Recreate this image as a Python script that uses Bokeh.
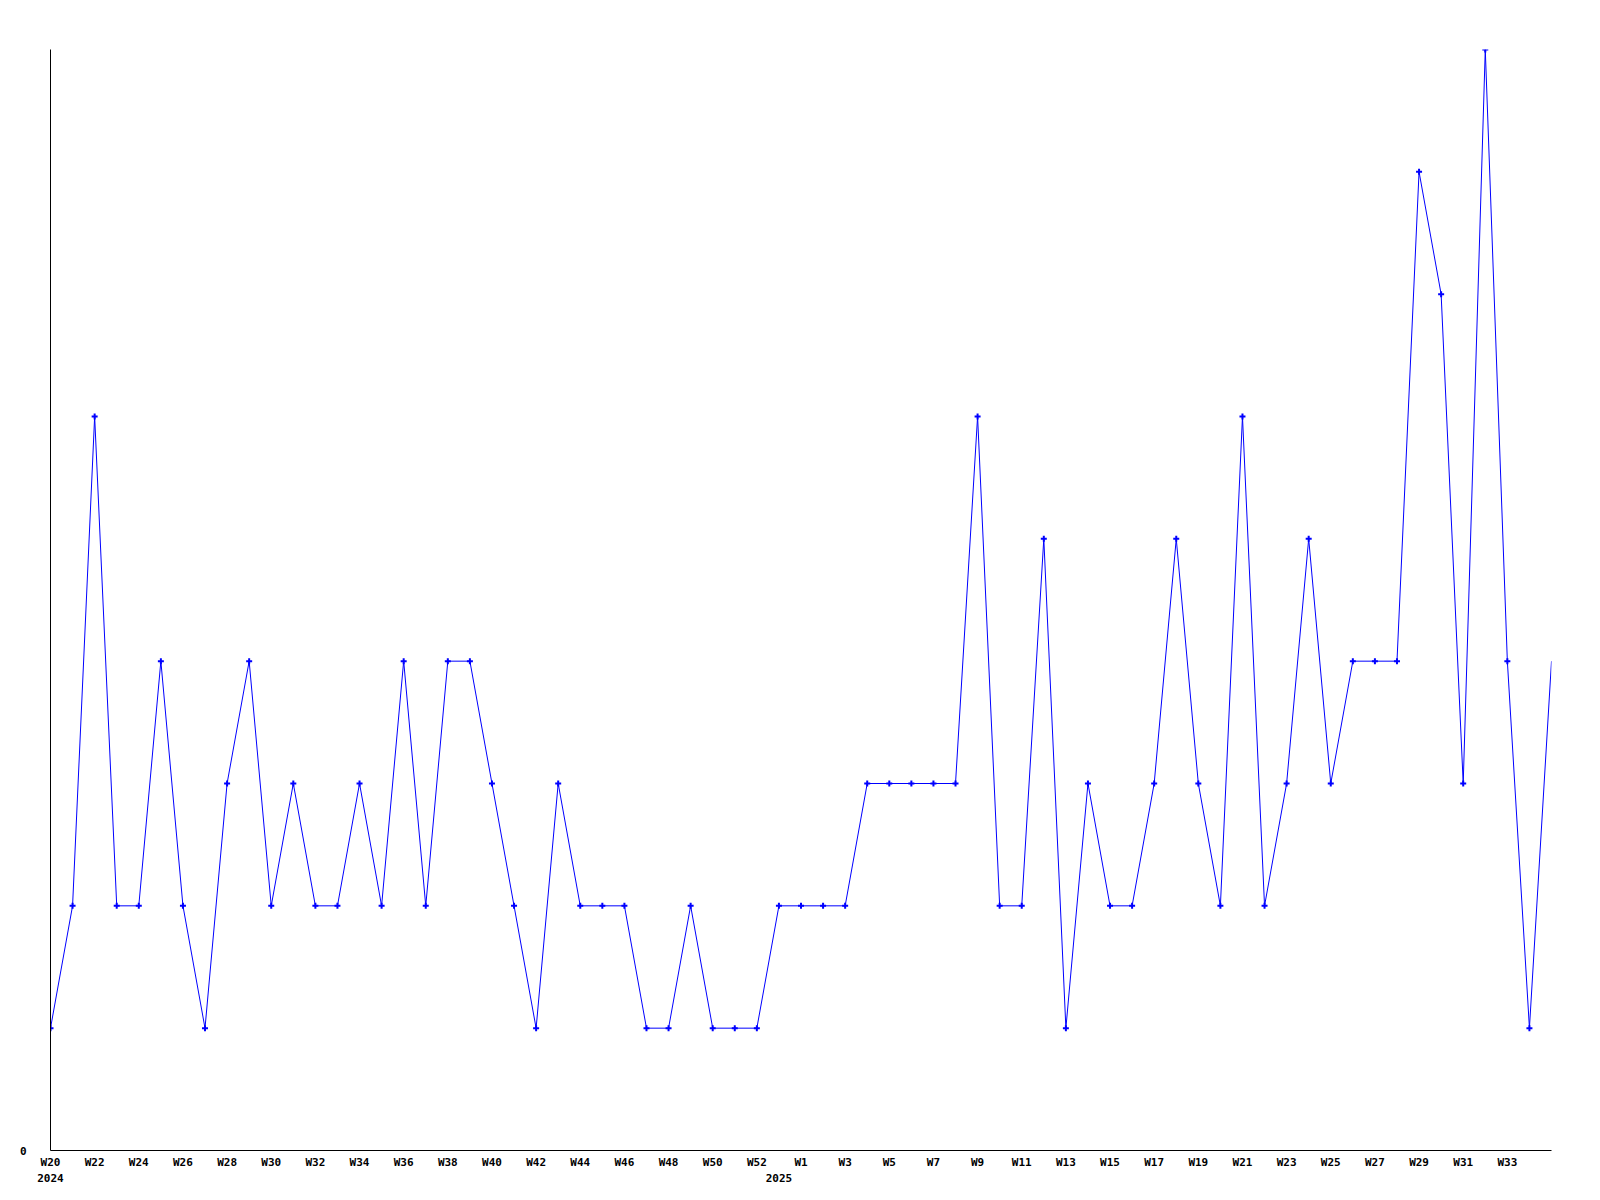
from bokeh.plotting import figure
from bokeh.models import Range1d, FixedTicker, LinearAxis
from bokeh.embed import file_html
from bokeh.resources import INLINE

# Weekly data, 2024-W20 .. 2025-W35
week_labels = (
    ["W%d" % w for w in range(20, 54)]      # 2024: W20..W53
    + ["W%d" % w for w in range(1, 36)]     # 2025: W1..W35
)
values = [
    1, 2, 6, 2, 2, 4, 2, 1, 3, 4,
    2, 3, 2, 2, 3, 2, 4, 2, 4, 4,
    3, 2, 1, 3, 2, 2, 2, 1, 1, 2,
    1, 1, 1, 2, 2, 2, 2, 3, 3, 3,
    3, 3, 6, 2, 2, 5, 1, 3, 2, 2,
    3, 5, 3, 2, 6, 2, 3, 5, 3, 4,
    4, 4, 8, 7, 3, 9, 4, 1, 4,
]
year_labels = {0: "2024", 33: "2025"}
y_max = 9

x = list(range(len(values)))
tick_idx = list(range(0, len(values) - 1, 2))

FONT = "DejaVu Sans Mono"

p = figure(width=1590, height=1184, output_backend="svg", toolbar_location=None,
           x_range=Range1d(0, len(values) - 1), y_range=Range1d(0, y_max),
           min_border_left=50, min_border_top=49, min_border_right=39, min_border_bottom=20,
           x_axis_location=None, y_axis_location=None)
p.outline_line_color = None
p.xgrid.visible = False
p.ygrid.visible = False
p.background_fill_color = "white"
p.border_fill_color = "white"

p.line(x, values, line_color="#0000ff", line_width=1)
p.scatter(x[:-1], values[:-1], marker="cross", size=6, line_width=2, line_color="#0000ff")

# left axis: only "0"
yax = LinearAxis(ticker=FixedTicker(ticks=[0]))
yax.axis_line_color = "black"
yax.axis_line_width = 1
yax.major_tick_line_color = None
yax.minor_tick_line_color = None
yax.major_label_standoff = 18
yax.major_label_text_font = FONT
yax.major_label_text_font_style = "bold"
yax.major_label_text_font_size = "11px"
yax.major_label_text_color = "black"
p.add_layout(yax, "left")

# bottom axis: week labels
xax = LinearAxis(ticker=FixedTicker(ticks=tick_idx))
xax.major_label_overrides = {i: week_labels[i] for i in tick_idx}
xax.axis_line_color = "black"
xax.major_tick_line_color = None
xax.minor_tick_line_color = None
xax.major_tick_out = 0
xax.major_tick_in = 0
xax.major_label_standoff = 5
xax.major_label_text_font = FONT
xax.major_label_text_font_style = "bold"
xax.major_label_text_font_size = "11px"
xax.major_label_text_color = "black"
p.add_layout(xax, "below")

# second row: years
yr = LinearAxis(ticker=FixedTicker(ticks=list(year_labels.keys())))
yr.major_label_overrides = year_labels
yr.axis_line_color = None
yr.major_tick_line_color = None
yr.minor_tick_line_color = None
yr.major_tick_out = 0
yr.major_tick_in = 0
yr.major_label_standoff = 2
yr.major_label_text_font = FONT
yr.major_label_text_font_style = "bold"
yr.major_label_text_font_size = "11px"
yr.major_label_text_color = "black"
p.add_layout(yr, "below")

open("out.html", "w").write(file_html(p, INLINE))
